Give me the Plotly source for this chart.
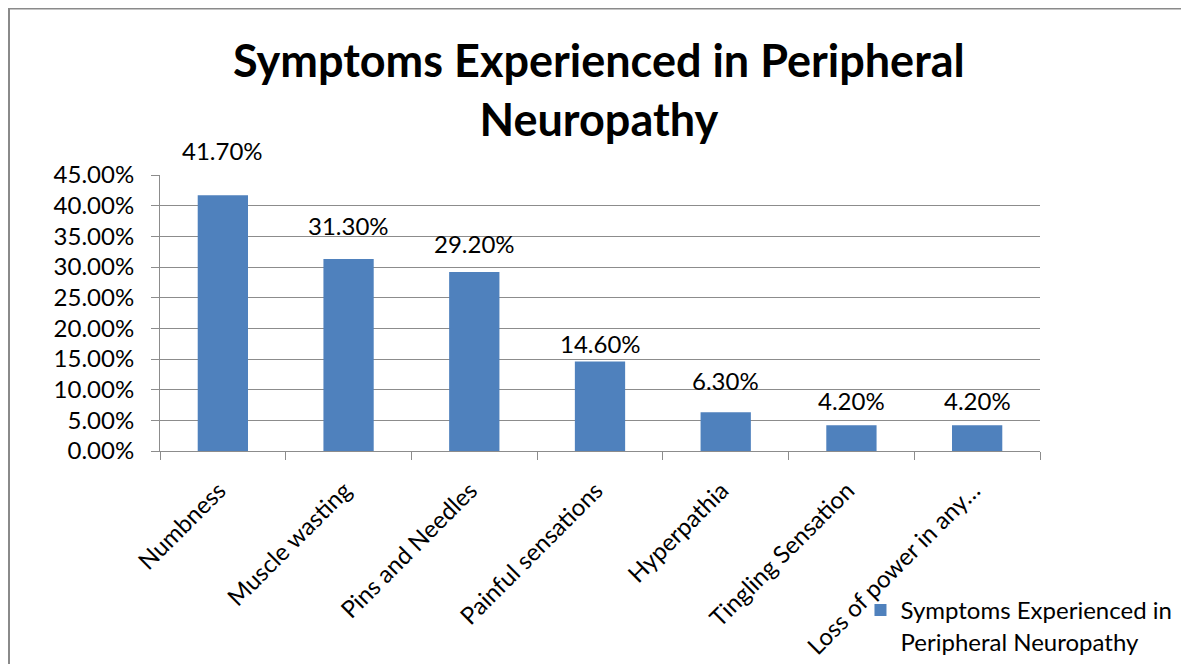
import plotly.graph_objects as go

categories = ["Numbness", "Muscle wasting", "Pins and Needles", "Painful sensations",
              "Hyperpathia", "Tingling Sensation", "Loss of power in any…"]
values = [0.417, 0.313, 0.292, 0.146, 0.063, 0.042, 0.042]
series_name = "Symptoms Experienced in<br>Peripheral Neuropathy"
title_text = "<b>Symptoms Experienced in Peripheral<br>Neuropathy</b>"
label_shift = [45, 34, 28, 18, 32, 25, 25]

BAR = "#4F81BD"
GRID = "#8C8C8C"
FONT = "Lato"

fig = go.Figure()
fig.add_trace(go.Bar(
    x=categories, y=values,
    name=series_name,
    marker=dict(color=BAR, line=dict(width=0)),
    showlegend=True,
))

for c, v, s in zip(categories, values, label_shift):
    fig.add_annotation(x=c, y=v, text=f"{v*100:.2f}%", showarrow=False,
                       yshift=s, font=dict(family=FONT, size=24, color="#000000"))

fig.add_annotation(text=title_text, xref="paper", yref="paper",
                   x=(599-160)/880, y=(451-90)/276, xanchor="center", yanchor="middle",
                   showarrow=False, font=dict(family=FONT, size=45, color="#000000"))

fig.update_layout(
    width=1189, height=664,
    margin=dict(l=152, r=157, t=167, b=221, autoexpand=False),
    paper_bgcolor="white", plot_bgcolor="white",
    bargap=0.6,
    legend=dict(x=0.796, y=-0.496, xanchor="left", yanchor="top",
                font=dict(family=FONT, size=24, color="#000000"),
                valign="top", bgcolor="rgba(0,0,0,0)"),
    font=dict(family=FONT, size=24, color="#000000"),
)
fig.update_xaxes(type="category", tickson="boundaries", ticks="outside", ticklen=8,
                 tickcolor=GRID, tickwidth=1, showline=True, linecolor=GRID, linewidth=1,
                 tickangle=-45, showgrid=False, ticklabelstandoff=15, ticklabelshift=-4,
                 automargin=False,
                 tickfont=dict(family=FONT, size=24, color="#000000"))
fig.update_yaxes(range=[0, 0.45], dtick=0.05, tickformat=".2%", ticks="outside",
                 ticklen=8, tickcolor=GRID, showline=True, linecolor=GRID, linewidth=1,
                 showgrid=True, gridcolor=GRID, gridwidth=1, zeroline=False,
                 ticklabelstandoff=12, automargin=False,
                 tickfont=dict(family=FONT, size=24, color="#000000"))

fig.add_shape(type="rect", xref="paper", yref="paper",
              x0=(9-160)/880, x1=(1210-160)/880, y0=(451-720)/276, y1=(451-8.5)/276,
              line=dict(color="#8A8A8A", width=2), fillcolor="rgba(0,0,0,0)", layer="below")

fig.write_html("out.html")
